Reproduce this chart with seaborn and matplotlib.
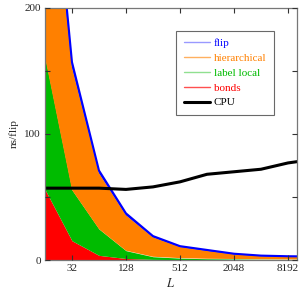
import numpy as np
import pandas as pd
import matplotlib
matplotlib.use('Agg')
import matplotlib.pyplot as plt
import seaborn as sns
from matplotlib.lines import Line2D

# ── data (cumulative boundaries, ns/flip) ──
L_vals        = [16, 32, 64, 128, 256, 512, 1024, 2048, 4096, 8192, 16384]
bonds_top     = [56, 15.3, 3.7, 1.2, 0.5, 0.3, 0.2, 0.15, 0.1, 0.1, 0.1]
label_top     = [161, 55.6, 24.6, 7.4, 2.6, 1.5, 1.0, 0.8, 0.6, 0.5, 0.5]
hier_top      = [360, 153, 69, 35.5, 18, 10.3, 7.2, 4.5, 3.0, 2.4, 2.2]
flip_top      = [380, 157, 71, 37, 19, 11, 8, 5, 3.5, 3.0, 2.8]
cpu_vals      = [57, 57, 57, 56, 58, 62, 68, 70, 72, 77, 80]

x_ticks       = [32, 128, 512, 2048, 8192]
y_ticks       = [0, 50, 100, 150, 200]
y_ticklabels  = ['0', '', '100', '', '200']

df = pd.DataFrame({'L': L_vals, 'bonds': bonds_top, 'label': label_top,
                   'hier': hier_top, 'flip': flip_top, 'cpu': cpu_vals})

sns.set_style('ticks')
plt.rcParams['font.family'] = ['Liberation Serif', 'DejaVu Serif']
plt.rcParams['mathtext.fontset'] = 'stix'

BLUE, ORANGE, GREEN, RED = '#0000ff', '#ff8000', '#00bb00', '#ff0000'

fig = plt.figure(figsize=(3.08, 3.02), dpi=100)
ax = fig.add_axes([0.146, 0.139, 0.818, 0.835])

# stacked areas
ax.fill_between(df['L'], 0, df['bonds'], color=RED, lw=0)
ax.fill_between(df['L'], df['bonds'], df['label'], color=GREEN, lw=0)
ax.fill_between(df['L'], df['label'], df['hier'], color=ORANGE, lw=0)
ax.fill_between(df['L'], df['hier'], df['flip'], color=BLUE, lw=0)
sns.lineplot(data=df, x='L', y='flip', color=BLUE, lw=1.5, ax=ax)
sns.lineplot(data=df, x='L', y='cpu', color='black', lw=2.2, ax=ax)

ax.set_xscale('log', base=2)
ax.set_xlim(16, 10300)
ax.set_ylim(0, 200)
ax.set_xticks(x_ticks)
ax.set_xticklabels([str(t) for t in x_ticks])
ax.xaxis.set_minor_locator(matplotlib.ticker.NullLocator())
ax.set_yticks(y_ticks)
ax.set_yticklabels(y_ticklabels)
ax.tick_params(direction='in', top=True, right=True, length=3.5, width=0.8,
               labelsize=8, color='#333333', pad=3)
for s in ax.spines.values():
    s.set_color('#777777')
    s.set_linewidth(0.9)
ax.set_axisbelow(False)

ax.set_xlabel('$L$', fontsize=9, labelpad=3)
ax.set_ylabel('ns/flip', fontsize=8, labelpad=4)

handles = [Line2D([], [], color='#9999ff', lw=1.0),
           Line2D([], [], color='#ffb060', lw=1.0),
           Line2D([], [], color='#90e090', lw=1.0),
           Line2D([], [], color='#ff5050', lw=1.0),
           Line2D([], [], color='black', lw=2.2)]
names = ['flip', 'hierarchical', 'label local', 'bonds', 'CPU']
leg = ax.legend(handles, names, loc='upper right', bbox_to_anchor=(0.909, 0.909),
                fontsize=8, frameon=True, fancybox=False, handlelength=2.3,
                handletextpad=0.35, labelspacing=0.45, borderpad=0.7,
                borderaxespad=0)
leg.get_frame().set_edgecolor('#444444')
leg.get_frame().set_linewidth(0.8)
for txt, c in zip(leg.get_texts(), [BLUE, ORANGE, GREEN, RED, 'black']):
    txt.set_color(c)

fig.savefig('out.png', dpi=100)
